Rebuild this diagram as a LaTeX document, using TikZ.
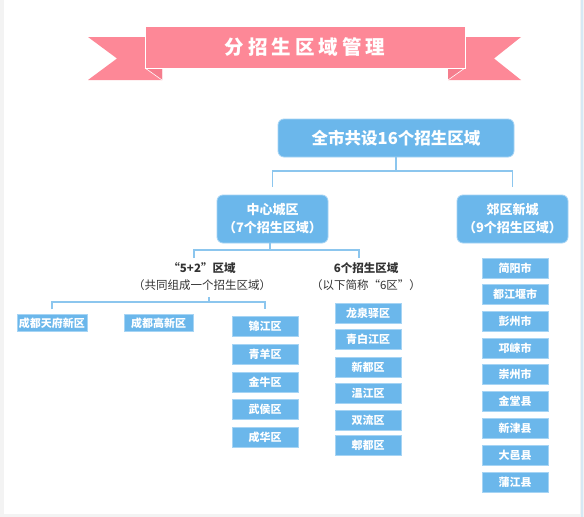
\documentclass[tikz,border=0pt]{standalone}
\usepackage{fontspec}
\setmainfont{Noto Sans CJK SC}
\definecolor{bgray}{HTML}{F3F3F3}
\definecolor{rib}{HTML}{FD8897}
\definecolor{ribd}{HTML}{F57D8D}
\definecolor{boxb}{HTML}{6BB7EB}
\definecolor{boxe}{HTML}{A6D4F4}
\definecolor{conn}{HTML}{8CC6EE}
\definecolor{txt}{HTML}{333333}
\definecolor{sidel}{HTML}{D6E8F5}
\tikzset{
  bigbox/.style={draw=boxe, line width=0.8pt, fill=boxb, rounded corners=6pt, text=white, font=\bfseries, align=center, inner sep=0pt},
  smallbox/.style={draw=boxe, line width=0.5pt, fill=boxb, text=white, font=\bfseries\fontsize{11}{12}\selectfont, minimum width=66pt, minimum height=20pt, inner sep=0pt},
  lbl/.style={text=txt, align=center, font=\fontsize{11.5}{17}\selectfont, inner sep=0pt},
  connline/.style={draw=conn, line width=1.3pt}
}
\begin{document}
\begin{tikzpicture}[x=1pt,y=-1pt]
\useasboundingbox (0,0) rectangle (584,517);
\fill[bgray] (0,0) rectangle (584,517);
\fill[white] (4,0) rectangle (580,514);
\fill[sidel] (581,0) rectangle (583,517);
% ribbon
\fill[rib] (88,37) -- (162,37) -- (162,80) -- (88,80) -- (117,58.5) -- cycle;
\fill[rib] (521,37) -- (448,37) -- (448,80) -- (521,80) -- (494,58.5) -- cycle;
\fill[ribd] (145,68) -- (162,68) -- (162,80) -- cycle;
\fill[ribd] (465,68) -- (448,68) -- (448,80) -- cycle;
\draw[white, line width=0.6pt] (145,68) -- (162,80);
\draw[white, line width=0.6pt] (465,68) -- (448,80);
\node[draw=white, line width=0.6pt, fill=rib, minimum width=320pt, minimum height=42pt, inner sep=0pt, text=white, font=\bfseries\fontsize{19.5}{22}\selectfont] (title) at (305,47) {分\kern4pt 招\kern4pt 生\kern4pt 区\kern4pt 域\kern4pt 管\kern4pt 理};
% top boxes
\node[bigbox, minimum width=236pt, minimum height=38pt, font=\bfseries\fontsize{16.5}{20}\selectfont] (top) at (396,138) {全市共设16个招生区域};
\node[bigbox, minimum width=111pt, minimum height=48pt, font=\bfseries\fontsize{13}{18}\selectfont] (c1) at (272.5,219) {中心城区\\（7个招生区域）};
\node[bigbox, minimum width=111pt, minimum height=48pt, font=\bfseries\fontsize{13}{18}\selectfont] (c2) at (512.5,219) {郊区新城\\（9个招生区域）};
\coordinate (h1) at (396,171);
\draw[connline] (top.south) -- (h1);
\draw[connline] ([yshift=8pt]c1.north) |- (h1) -| ([yshift=8pt]c2.north);
% labels
\node[lbl] (l52) at (202,277) {{\bfseries “5+2”区域}\\（共同组成一个招生区域）};
\node[lbl] (l6) at (366,277) {{\bfseries 6个招生区域}\\（以下简称“6区”）};
\coordinate (h2) at (270,250);
\coordinate (l52t) at (194,258);
\coordinate (l6t) at (359,258);
\draw[connline] (c1.south -| h2) -- (h2);
\draw[connline] (l52t) |- (h2) -| (l6t);
% 5+2 boxes
\node[smallbox, minimum width=70pt, minimum height=17pt] (a1) at (52,323) {成都天府新区};
\node[smallbox, minimum width=69pt, minimum height=17pt] (a2) at (158.5,323) {成都高新区};
\node[smallbox] (b1) at (265,326.5) {锦江区};
\node[smallbox] (b2) at (265,354) {青羊区};
\node[smallbox] (b3) at (265,382) {金牛区};
\node[smallbox] (b4) at (265,409) {武侯区};
\node[smallbox] (b5) at (265,437) {成华区};
\coordinate (h3) at (209,302);
\draw[connline] (h3) -- ++(0,-5);
\draw[connline] ([yshift=5pt]a1.north) |- (h3) -| ([yshift=7pt]b1.north);
% 6 district boxes
\node[smallbox] (d1) at (368,313) {龙泉驿区};
\node[smallbox] (d2) at (368,339) {青白江区};
\node[smallbox] (d3) at (368,367) {新都区};
\node[smallbox] (d4) at (368,393) {温江区};
\node[smallbox] (d5) at (368,420) {双流区};
\node[smallbox] (d6) at (368,445) {郫都区};
% suburban boxes
\node[smallbox] (e1) at (515,268) {简阳市};
\node[smallbox] (e2) at (515,294) {都江堰市};
\node[smallbox] (e3) at (515,321) {彭州市};
\node[smallbox] (e4) at (515,348) {邛崃市};
\node[smallbox] (e5) at (515,374) {崇州市};
\node[smallbox] (e6) at (515,401) {金堂县};
\node[smallbox] (e7) at (515,428) {新津县};
\node[smallbox] (e8) at (515,455) {大邑县};
\node[smallbox] (e9) at (515,482) {蒲江县};
\end{tikzpicture}
\end{document}
